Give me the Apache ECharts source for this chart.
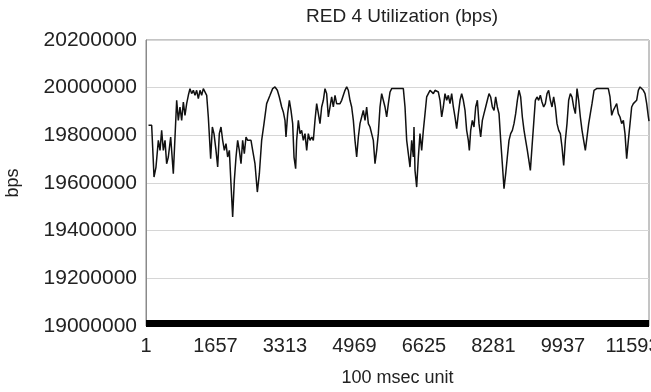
<!DOCTYPE html>
<html>
<head>
<meta charset="utf-8">
<script src="https://cdn.jsdelivr.net/npm/echarts@6/dist/echarts.min.js"></script>
<style>html,body{margin:0;padding:0;background:#fff}#c{width:651px;height:392px}</style>
</head>
<body>
<div id="c"></div>
<script>
const titleText = 'RED 4 Utilization (bps)';
const xName = '100 msec unit';
const yName = 'bps';
const xTickStart = 1;
const xTickStep = 1656;
const xLastIndex = 11986;
const yMin = 19000000, yMax = 20200000, yStep = 200000;

const sampleIdx = [60,135,191,238,294,334,373,413,453,492,532,588,651,731,770,810,850,890,929,969,1009,1048,1088,1128,1168,1207,1247,1287,1326,1366,1406,1446,1485,1541,1581,1620,1668,1708,1747,1787,1827,1867,1906,1946,1986,2025,2065,2105,2145,2184,2224,2264,2303,2343,2383,2423,2462,2502,2542,2597,2653,2701,2756,2812,2875,2955,3018,3074,3130,3177,3233,3272,3312,3336,3376,3416,3455,3495,3527,3566,3590,3630,3670,3709,3749,3789,3829,3868,3908,3948,3987,4027,4067,4107,4146,4186,4226,4265,4305,4345,4385,4424,4464,4504,4543,4583,4623,4663,4702,4742,4782,4821,4861,4901,4941,4980,5020,5060,5099,5139,5179,5219,5258,5298,5338,5377,5417,5457,5497,5536,5576,5616,5655,5695,5735,5775,5815,5854,5894,6013,6132,6172,6212,6251,6291,6331,6370,6386,6410,6450,6490,6529,6569,6609,6649,6688,6728,6768,6807,6847,6887,6926,6966,7006,7046,7085,7125,7165,7205,7244,7284,7324,7363,7403,7443,7483,7522,7562,7602,7641,7681,7705,7737,7776,7816,7856,7896,7935,7975,8015,8054,8094,8134,8174,8213,8253,8293,8332,8372,8412,8452,8491,8531,8571,8610,8650,8690,8730,8769,8809,8849,8888,8928,8968,9008,9047,9087,9127,9159,9198,9238,9278,9317,9357,9397,9436,9476,9516,9556,9595,9635,9675,9714,9754,9794,9834,9873,9913,9953,9993,10032,10072,10112,10151,10191,10231,10271,10310,10350,10390,10429,10469,10509,10549,10588,10628,10676,10739,10898,11017,11057,11097,11136,11176,11216,11255,11295,11335,11375,11414,11454,11494,11534,11573,11613,11653,11692,11732,11772,11812,11851,11891,11931,11971,11986];

const bpsValues = [19842000,19842000,19625000,19667000,19779000,19737000,19821000,19737000,19779000,19681000,19709000,19793000,19639000,19947000,19863000,19919000,19863000,19940000,19884000,19933000,19968000,19996000,19975000,19989000,19968000,19989000,19954000,19989000,19968000,19996000,19996000,19968000,19877000,19702000,19835000,19807000,19737000,19667000,19807000,19835000,19779000,19737000,19765000,19709000,19737000,19597000,19458000,19611000,19709000,19779000,19737000,19681000,19779000,19723000,19793000,19779000,19779000,19779000,19737000,19681000,19562000,19639000,19779000,19849000,19933000,19968000,19996000,20003000,19989000,19961000,19919000,19898000,19863000,19793000,19891000,19947000,19905000,19849000,19709000,19660000,19779000,19863000,19807000,19821000,19779000,19807000,19737000,19807000,19779000,19793000,19779000,19863000,19933000,19891000,19849000,19919000,19947000,19996000,19975000,19877000,19919000,19961000,19919000,19968000,19933000,19940000,19933000,19947000,19968000,19989000,20003000,19989000,19947000,19919000,19863000,19779000,19709000,19793000,19849000,19877000,19905000,19863000,19919000,19849000,19835000,19807000,19779000,19681000,19737000,19807000,19919000,19975000,19947000,19919000,19877000,19933000,19982000,19996000,19996000,19996000,19996000,19919000,19779000,19723000,19667000,19779000,19709000,19835000,19653000,19583000,19709000,19807000,19737000,19821000,19891000,19961000,19975000,19989000,19996000,19975000,19989000,19989000,19982000,19947000,19877000,19919000,19975000,19947000,19968000,19933000,19975000,19919000,19877000,19828000,19891000,19947000,19975000,19947000,19905000,19821000,19779000,19737000,19821000,19863000,19835000,19919000,19947000,19849000,19793000,19863000,19891000,19919000,19947000,19975000,19961000,19919000,19905000,19961000,19919000,19891000,19779000,19681000,19576000,19639000,19709000,19779000,19807000,19821000,19849000,19891000,19947000,19989000,19961000,19877000,19821000,19779000,19737000,19737000,19653000,19751000,19849000,19947000,19961000,19947000,19968000,19940000,19919000,19933000,19975000,19989000,19947000,19919000,19961000,19919000,19849000,19821000,19807000,19751000,19674000,19779000,19849000,19947000,19975000,19961000,19919000,19891000,19996000,19947000,19877000,19821000,19779000,19737000,19793000,19849000,19891000,19933000,19989000,19996000,19996000,19996000,19961000,19884000,19905000,19919000,19933000,19891000,19877000,19849000,19863000,19807000,19702000,19779000,19849000,19919000,19933000,19933000,19947000,19989000,20003000,20010000,19989000,19975000,19933000,19877000,19860000];

const lineData = sampleIdx.map((t, i) => [t, bpsValues[i]]);

const chart = echarts.init(document.getElementById('c'), null, {renderer: 'canvas'});
const fontFam = '"Liberation Sans", Arial, sans-serif';
chart.setOption({
  animation: false,
  backgroundColor: '#ffffff',
  title: {
    text: titleText,
    left: 301, top: 2,
    textStyle: {fontFamily: fontFam, fontSize: 19, fontWeight: 'normal', color: '#222'}
  },
  grid: {left: 146, right: 2, top: 40, bottom: 66, show: true, borderColor: '#8a8a8a', borderWidth: 1,
         containLabel: false, outerBoundsMode: 'none'},
  xAxis: {
    type: 'value',
    min: 0, max: xLastIndex, interval: xTickStep,
    offset: -3,
    name: xName, nameLocation: 'middle', nameGap: 46,
    nameTextStyle: {fontFamily: fontFam, fontSize: 18, color: '#222'},
    axisLine: {show: true, lineStyle: {color: '#000', width: 7, cap: 'butt'}},
    axisTick: {show: false},
    splitLine: {show: false},
    axisLabel: {
      fontFamily: fontFam, fontSize: 20, color: '#222', margin: 13,
      showMaxLabel: false, hideOverlap: false,
      formatter: v => String(v + xTickStart)
    }
  },
  yAxis: {
    type: 'value',
    min: yMin, max: yMax, interval: yStep,
    name: yName, nameLocation: 'middle', nameGap: 124, nameRotate: 90,
    nameTextStyle: {fontFamily: fontFam, fontSize: 18, color: '#222'},
    axisLine: {show: true, lineStyle: {color: '#8a8a8a', width: 1}},
    axisTick: {show: false},
    splitLine: {show: true, lineStyle: {color: '#d6d6d6', width: 1}},
    axisLabel: {fontFamily: fontFam, fontSize: 21, color: '#222', margin: 9,
      formatter: v => String(v)}
  },
  series: [{
    type: 'line',
    data: lineData,
    showSymbol: false,
    symbol: 'none',
    clip: true,
    lineStyle: {color: '#111', width: 1.5},
    z: 3
  }]
});
</script>
</body>
</html>
